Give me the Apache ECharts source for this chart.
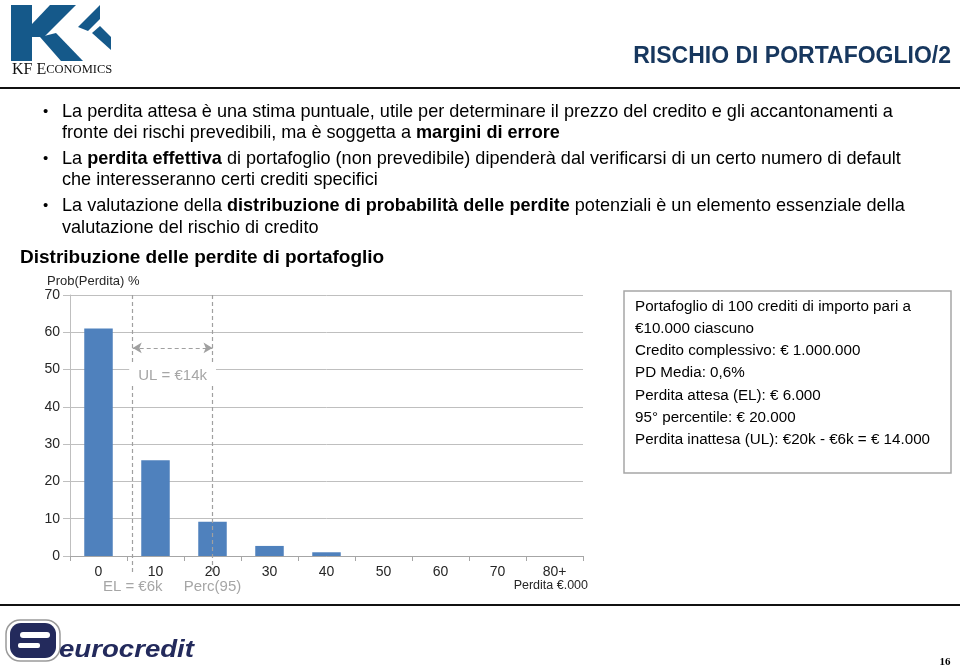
<!DOCTYPE html>
<html><head><meta charset="utf-8">
<script src="https://cdn.jsdelivr.net/npm/echarts@6/dist/echarts.min.js"></script>
<style>html,body{margin:0;padding:0;background:#fff}#c{width:960px;height:669px}</style>
</head><body><div id="c"></div>
<script>
// ---- data ----
const categories = ['0', '10', '20', '30', '40', '50', '60', '70', '80+'];
const probValues = [61.0, 25.7, 9.2, 2.7, 1.0, 0, 0, 0, 0];
const yMin = 0, yMax = 70, yInterval = 10;
const elValue = 6;          // EL = €6k
const percValue = 20;       // Perc(95)
const ulArrowLevel = 55.8;  // level of UL arrow (in %)
const markerTop = 70, markerBottom = -5;
const elLabel = 'EL = €6k';
const percLabel = 'Perc(95)';
const ulLabel = 'UL = €14k';
const boxLines = [
  'Portafoglio di 100 crediti di importo pari a',
  '€10.000 ciascuno',
  'Credito complessivo: € 1.000.000',
  'PD Media: 0,6%',
  'Perdita attesa (EL): € 6.000',
  '95° percentile: € 20.000',
  'Perdita inattesa (UL): €20k - €6k = € 14.000'
];
const bulletLines = [
  {bullet: true, text: '{n|La perdita attesa è una stima puntuale, utile per determinare il prezzo del credito e gli accantonamenti a}'},
  {bullet: false, text: '{n|fronte dei rischi prevedibili, ma è soggetta a }{b|margini di errore}'},
  {bullet: true, text: '{n|La }{b|perdita effettiva}{n| di portafoglio (non prevedibile) dipenderà dal verificarsi di un certo numero di default}'},
  {bullet: false, text: '{n|che interesseranno certi crediti specifici}'},
  {bullet: true, text: '{n|La valutazione della }{b|distribuzione di probabilità delle perdite}{n| potenziali è un elemento essenziale della}'},
  {bullet: false, text: '{n|valutazione del rischio di credito}'}
];

const F = '"Liberation Sans", Arial, Helvetica, sans-serif';
const SERIF = '"Liberation Serif", "Times New Roman", serif';
const chart = echarts.init(document.getElementById('c'), null, {renderer: 'canvas'});

const bulletY = [112, 133, 159, 180, 206, 228];
const gfx = [];
// header lines
gfx.push({type: 'line', shape: {x1: 0, y1: 88, x2: 960, y2: 88}, style: {stroke: '#111', lineWidth: 2}});
gfx.push({type: 'line', shape: {x1: 0, y1: 605, x2: 960, y2: 605}, style: {stroke: '#111', lineWidth: 2}});
// KF logo
const kfBlue = '#15598a';
gfx.push({type: 'rect', shape: {x: 11, y: 5, width: 21, height: 56}, style: {fill: kfBlue}});
gfx.push({type: 'polygon', shape: {points: [[50, 5], [76, 5], [44, 37], [32, 37], [32, 24]]}, style: {fill: kfBlue}});
gfx.push({type: 'polygon', shape: {points: [[40, 37], [56, 33], [83, 61], [61, 61]]}, style: {fill: kfBlue}});
gfx.push({type: 'polygon', shape: {points: [[78, 27], [100, 5], [100, 19], [88, 31]]}, style: {fill: kfBlue}});
gfx.push({type: 'polygon', shape: {points: [[92, 33], [100, 26], [111, 37], [111, 50]]}, style: {fill: kfBlue}});
gfx.push({type: 'text', x: 12, y: 70, style: {text: '{a|KF E}{s|CONOMICS}', verticalAlign: 'middle', fill: '#111',
  rich: {a: {fontFamily: SERIF, fontSize: 16, fill: '#111'}, s: {fontFamily: SERIF, fontSize: 12.5, fill: '#111'}}}});
// title
gfx.push({type: 'text', x: 951, y: 57, style: {text: 'RISCHIO DI PORTAFOGLIO/2', align: 'right', verticalAlign: 'middle',
  fontFamily: F, fontWeight: 'bold', fontSize: 23, fill: '#17375e'}});
// bullets
bulletLines.forEach((l, i) => {
  if (l.bullet) gfx.push({type: 'text', x: 43, y: bulletY[i], style: {text: '•', verticalAlign: 'middle', fontFamily: F, fontSize: 15, fill: '#000'}});
  gfx.push({type: 'text', x: 62, y: bulletY[i], style: {text: l.text, verticalAlign: 'middle', fill: '#000',
    rich: {n: {fontFamily: F, fontSize: 18.1, fill: '#000'}, b: {fontFamily: F, fontSize: 18.1, fontWeight: 'bold', fill: '#000'}}}});
});
gfx.push({type: 'text', x: 20, y: 258, style: {text: 'Distribuzione delle perdite di portafoglio', verticalAlign: 'middle',
  fontFamily: F, fontWeight: 'bold', fontSize: 19, fill: '#000'}});
gfx.push({type: 'text', x: 47, y: 281, style: {text: 'Prob(Perdita) %', verticalAlign: 'middle', fontFamily: F, fontSize: 13, fill: '#262626'}});
// right box
gfx.push({type: 'rect', shape: {x: 624, y: 291, width: 327, height: 182}, style: {fill: 'none', stroke: '#a6a6a6', lineWidth: 1.5}});
boxLines.forEach((t, i) => {
  gfx.push({type: 'text', x: 635, y: 307 + i * 22.1, style: {text: t, verticalAlign: 'middle', fontFamily: F, fontSize: 15.2, fill: '#000'}});
});
// eurocredit logo
const ecNavy = '#232a5c';
gfx.push({type: 'rect', shape: {x: 6, y: 620, width: 54, height: 41, r: 14}, style: {fill: '#fff', stroke: '#9a9a9a', lineWidth: 1.5}});
gfx.push({type: 'rect', shape: {x: 10, y: 623, width: 46, height: 35, r: 11}, style: {fill: ecNavy}});
gfx.push({type: 'rect', shape: {x: 20, y: 632, width: 30, height: 6, r: 3}, style: {fill: '#fff'}});
gfx.push({type: 'rect', shape: {x: 18, y: 643, width: 22, height: 5, r: 2}, style: {fill: '#fff'}});
gfx.push({type: 'text', x: 59, y: 651, scaleX: 1.2, style: {text: 'eurocredit', verticalAlign: 'middle', fontFamily: F, fontWeight: 'bold', fontStyle: 'italic', fontSize: 23, fill: ecNavy}});
gfx.push({type: 'text', x: 945, y: 662, style: {text: '16', align: 'center', verticalAlign: 'middle', fontFamily: SERIF, fontWeight: 'bold', fontSize: 11, fill: '#000'}});

const grayLab = '#a6a6a6';
const option = {
  animation: false,
  backgroundColor: '#fff',
  textStyle: {fontFamily: F},
  grid: [
    {left: 70, right: 377, top: 295, bottom: 113},
    {left: 70, right: 377, top: 295, bottom: 94.4}
  ],
  xAxis: [
    {type: 'category', data: categories, gridIndex: 0,
     axisLine: {lineStyle: {color: '#a6a6a6', width: 1}},
     axisTick: {show: true, length: 5, lineStyle: {color: '#a6a6a6'}},
     axisLabel: {margin: 9, fontSize: 14, color: '#262626', fontFamily: F},
     name: 'Perdita €.000', nameLocation: 'end', nameGap: 5,
     nameTextStyle: {align: 'right', verticalAlign: 'top', padding: [23, 0, 0, 0], fontSize: 12.5, color: '#262626', fontFamily: F}},
    {type: 'value', gridIndex: 1, min: -5, max: 85, show: false}
  ],
  yAxis: [
    {type: 'value', gridIndex: 0, min: yMin, max: yMax, interval: yInterval,
     axisLine: {show: true, lineStyle: {color: '#bfbfbf'}},
     axisTick: {show: true, length: 7, lineStyle: {color: '#bfbfbf'}},
     splitLine: {lineStyle: {color: '#bfbfbf', width: 1}},
     axisLabel: {margin: 10, fontSize: 14, color: '#262626', fontFamily: F}},
    {type: 'value', gridIndex: 1, min: markerBottom, max: markerTop, show: false}
  ],
  series: [
    {type: 'bar', data: probValues, xAxisIndex: 0, yAxisIndex: 0, barWidth: '50%',
     itemStyle: {color: '#4f81bd'}, silent: true},
    {type: 'line', data: [], xAxisIndex: 1, yAxisIndex: 1, silent: true,
     markLine: {
       silent: true, animation: false, symbol: ['none', 'none'],
       lineStyle: {type: [4, 3], color: '#a0a0a0', width: 1.2},
       label: {show: false},
       data: [
         [{coord: [elValue, markerTop], label: {show: true, position: 'end', formatter: elLabel, distance: 5, color: grayLab, fontSize: 15, fontFamily: F}},
          {coord: [elValue, markerBottom]}],
         [{coord: [percValue, markerTop], label: {show: true, position: 'end', formatter: percLabel, distance: 5, color: grayLab, fontSize: 15, fontFamily: F}},
          {coord: [percValue, markerBottom]}],
         [{coord: [elValue, ulArrowLevel], symbol: 'arrow', symbolSize: [8, 9],
           label: {show: true, position: 'insideMiddleBottom', formatter: ulLabel, distance: 17, color: grayLab, fontSize: 15, fontFamily: F,
                   backgroundColor: '#fff', padding: [3, 9]}},
          {coord: [percValue, ulArrowLevel], symbol: 'arrow', symbolSize: [8, 9]}]
       ]
     }}
  ],
  graphic: {elements: gfx}
};
chart.setOption(option);
</script></body></html>
